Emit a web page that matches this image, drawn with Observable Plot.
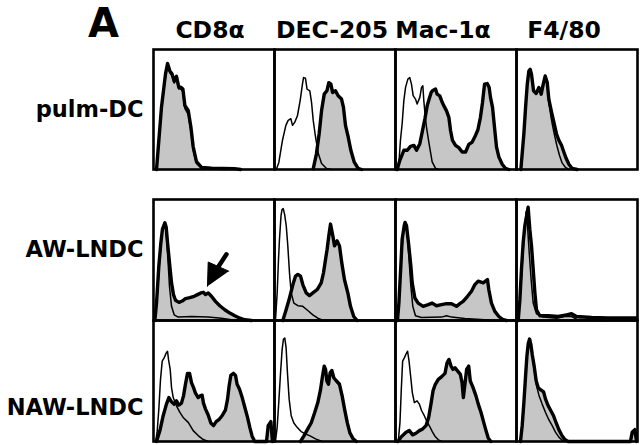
<!DOCTYPE html>
<html><head><meta charset="utf-8">
<script src="https://cdn.jsdelivr.net/npm/d3@7"></script>
<script src="https://cdn.jsdelivr.net/npm/@observablehq/plot@0.6"></script>
<style>
body{margin:0;background:#fff;}
#wrap{position:relative;width:640px;height:445px;font-family:"DejaVu Sans",sans-serif;background:#fff;}
#wrap svg{display:block;}
#panelLabel{position:absolute;left:88px;top:0px;font:bold 40px/47px "DejaVu Sans",sans-serif;color:#000;}
</style></head>
<body><div id="wrap"><div id="panelLabel">A</div></div>
<script>
// Cell populations (rows) and stained markers (columns)
const populations = ["pulm-DC", "AW-LNDC", "NAW-LNDC"];
const markers = ["CD8α", "DEC-205", "Mac-1α", "F4/80"];

// Histograms: [fluorescence (% of axis), cell count (% of panel height)]
// "control" = isotype control (open, thin line); "stained" = specific antibody (gray, thick line)
const pulmCD8Stained = [[2.5,0],[6.6,51.9],[9.9,79.5],[11.6,88.3],[13.5,82.2],[15.4,79.5],[17.1,73.6],[19,77.7],[20.9,68.5],[22.6,68.5],[24.3,67],[25.9,53.3],[28.7,49.2],[30.9,35.4],[32.8,18.9],[35.5,6.5],[39.7,1.8],[48,1],[67,0.7],[72,0]];
const pulmCD8Control = [[2.5,0],[6.6,50],[9.9,78],[11.6,86.5],[13.5,80.5],[15.4,78],[17.1,72],[19,76],[20.9,67],[22.6,67],[24.3,65],[25.9,51],[28.7,46],[30.9,32],[32.8,16],[35.5,5],[39.7,1.2],[48,0.6],[60,0]];

const pulmDECStained = [[32,0.6],[34.7,13.3],[36.9,29.8],[38.9,49.1],[41.1,62.8],[43.3,65.6],[44.9,72.4],[46.6,71.1],[48,64.2],[50.4,65.6],[52.6,61.4],[55.4,58.7],[57,51.8],[58.7,36.6],[60.9,27.1],[63.1,16],[65.8,6.4],[69.1,0.9],[72,0]];
const pulmDECControl = [[1.7,0.6],[3.6,5.9],[6.6,24.4],[9.4,36.8],[11.3,40.9],[13.5,42.3],[14.9,36.8],[16.8,39.5],[19,45],[21.2,57.4],[23.1,71.1],[24,76.6],[25.6,76],[26.9,67],[29.2,65.6],[30.6,56],[32,40.9],[33.9,27.1],[36.2,13.3],[38.9,5],[43,0.9],[47,0]];

const pulmMacStained = [[1.4,0],[3.6,7.7],[6.9,16],[9.6,16],[12.4,19.3],[15.2,20.1],[17.4,16],[20.1,21.5],[22.6,33.9],[24.3,42.2],[26.2,53.2],[27.8,58.7],[29.5,64.2],[31.1,66.1],[33.1,67],[34.4,62.8],[36.6,61.4],[38.6,56],[39.9,53.2],[42.1,49.1],[44.1,43.5],[45.5,32.5],[47.1,24.2],[49.6,20.1],[52.3,18.2],[55.1,14.6],[57.9,14.6],[60.6,20.9],[63.4,22.9],[66.1,28.4],[68.1,33.1],[70.2,43.5],[71.9,55.9],[73.6,71.1],[75.8,71.6],[77.4,68.3],[78.5,60.1],[80.2,51.8],[81.8,35.3],[83.5,18.7],[85.4,10.5],[88.2,4.4],[90.9,0.9],[93.7,0]];
const pulmMacControl = [[1.4,0],[2.8,5],[4.1,24.4],[5.5,38.1],[6.9,57.4],[8.3,68.4],[10.2,75.3],[11.8,76.6],[13.2,71.1],[14.6,61.5],[16.5,58.7],[17.9,54.6],[20.1,60.1],[21.5,68.4],[22.6,69.7],[23.4,57.4],[24.5,45],[25.6,35.4],[27.5,23],[30.3,6.4],[33.1,0.9],[35.8,0]];

const pulmF480Stained = [[3.6,0],[4.7,13.3],[6.1,29.8],[7.5,51.8],[8.9,71.1],[10.2,82.1],[11.3,83.5],[12.4,79.3],[14.1,65.6],[16.3,63.4],[18.5,68.3],[20.4,62.8],[22.1,71.1],[23.7,77.9],[25.4,72.4],[26.7,58.7],[29,47.7],[31.2,38],[33,29.8],[35,24.4],[37.2,20.2],[39.1,14.6],[41.1,9.1],[43.3,4.4],[46,0.9],[50.1,0]];
const pulmF480Control = [[3.6,0],[4.7,13.3],[6.1,29.8],[7.5,51.8],[8.9,71.1],[10.2,82.1],[11.3,83.5],[12.4,79.3],[14.1,65.6],[16.3,63.4],[18.5,68.3],[20.4,62.8],[22.1,71.1],[23.7,77.9],[25.4,72.4],[26.7,55.9],[29,40.8],[31.2,29.8],[33.3,20.2],[35.5,11.9],[37.7,5.5],[40.5,1.7],[43.3,0]];

const awCD8Stained = [[1.1,0],[2.5,14.4],[4.4,45],[6.1,64.4],[7.4,75.5],[9.4,80.8],[10.5,77],[11.6,64.4],[13.5,45],[14.9,31.1],[16.5,21.4],[18.2,16.7],[21,15],[23.7,16.1],[26.4,18.1],[30,18.9],[33.6,20],[36.4,21.4],[39.1,22.8],[41.3,23.3],[43,21.4],[45.2,22.8],[47.9,20],[51.2,15.8],[54.8,12.2],[58.9,8.9],[63.1,6.1],[67.2,3.9],[71.4,1.9],[75.5,0.6],[81,0]];
const awCD8Control = [[1.1,0],[3.3,22.8],[5.2,50.6],[7.2,72.8],[8.8,79.7],[10.2,75.5],[11.6,56.1],[13.2,28.3],[14.9,11.7],[17.1,4.7],[20.4,2.8],[31.4,3.3],[45.2,2.8],[56.2,1.9],[64.5,0.6],[70,0]];

const awDECStained = [[6.9,0],[9.6,8.9],[12.4,18.6],[15.2,29.7],[17.4,36.7],[19.3,38.1],[21.5,36.7],[23.4,29.7],[26.2,22.8],[28.9,20.6],[31.7,22.8],[35.3,25.6],[38.6,31.1],[40.5,39.4],[42.2,50.6],[43.5,58.9],[44.9,70],[46.3,79.7],[48.2,70],[49.6,61.7],[51.8,65.8],[53.7,61.7],[55.6,47.8],[57.8,33.9],[60.6,22.8],[62.8,11.7],[65.5,3.3],[68.3,0]];
const awDECControl = [[0.8,0],[2.2,22.5],[3.3,50.3],[4.1,67],[5.4,86.7],[6.2,91.7],[7.2,92.5],[8.4,87.5],[9.7,78.3],[11,61.7],[12.4,39.2],[13.8,22.8],[16,14.4],[19.3,12.2],[23.4,11.7],[27.5,8.3],[31.7,4.7],[35.8,1.9],[39.9,0.3],[44,0]];

const awMacStained = [[1.6,0],[2.8,14.4],[4.4,45],[5.5,67.2],[7.2,78.3],[7.9,81.1],[9.1,78.3],[11,61.7],[12.7,45],[13.8,31.1],[16,18.6],[18.7,14.4],[22.9,11.7],[27,13.1],[30.3,14.4],[33.9,12.2],[38,13.1],[42.2,13.9],[46.3,13.9],[50.4,11.7],[53.2,13.9],[55.9,15.8],[59.5,20],[62.8,24.2],[65.6,29.7],[68.3,32.5],[72.5,31.1],[76,33.9],[77.1,25.6],[79.3,14.4],[82.1,7.5],[85.4,3.3],[89,0.6],[91.7,0]];
const awMacControl = [[1.6,0],[3.3,22.8],[5,53.3],[6.6,75.5],[7.7,79],[9.4,75.5],[11,53.3],[12.7,28.3],[14.3,11.7],[16.5,3.9],[21.5,2.5],[38,2.8],[42.2,3.9],[46.3,2.8],[57.3,1.7],[73.8,0.6],[82.1,0]];

const awF480Stained = [[1.4,0],[2.8,17.2],[4.1,42.2],[5.5,64.4],[6.9,78.3],[9.6,93.6],[11,75.5],[12.4,61.7],[13.8,42.2],[15.2,22.8],[16.5,8.9],[19.3,3.9],[26.2,3.9],[34.4,3.3],[41.3,4.7],[45.5,5.6],[49.6,3.3],[62,2.5],[75.8,2.2],[89.5,2.2],[99,2.2]];
const awF480Control = [[1.4,0],[3.3,22.8],[5,50.6],[6.6,72.8],[8,90],[9.1,78.3],[10.5,56.1],[12.1,33.9],[13.8,14.4],[16.5,5.6],[22,2.8],[33,1.9],[39.9,3.3],[45.5,3.3],[49.6,1.1],[62,0.6],[70,0]];

const nawCD8Stained = [[2.5,0],[5.3,9],[8,21.3],[10.7,30.9],[12.7,36.3],[14.9,32.8],[17.1,30.9],[19,33.6],[20.9,30.1],[23.1,31.7],[24.8,37.7],[26.4,47.3],[28.1,56.3],[29.8,56.3],[31.4,48.6],[33.1,44.5],[34.7,39.9],[36.9,36.3],[38.6,37.7],[40.2,38.3],[41.3,31.7],[43,26.8],[45.2,21.9],[47.4,15.3],[49.6,13.1],[51.8,16.4],[54,18],[56.7,21.3],[59.5,26.2],[61.2,35],[62.5,45.9],[63.9,54.6],[66.1,56.3],[67.8,54.6],[69.1,47.3],[71.1,43.2],[73.3,36.3],[75.5,28.1],[77.7,19.9],[79.6,11.7],[81.5,4.4],[83.7,0],[93.4,0],[94.8,13.1],[97,16.4],[98.3,0]];
const nawCD8Control = [[1.7,0],[3,7.7],[4.4,26.8],[5.8,51.4],[7.2,66.4],[8.8,69.1],[10.5,73.2],[11.6,74.6],[12.4,67.8],[13.8,59.6],[14.9,44.5],[16.3,36.3],[19,29.5],[21.8,24],[24.5,19.9],[28.7,15.8],[32.8,9],[36.9,4.9],[41.1,1.6],[45.2,0]];

const nawDECStained = [[21.5,0],[24.2,4.4],[27.5,10.4],[30.3,15.3],[33.1,23.5],[35.8,32.2],[38,42.6],[39.7,54.1],[41.1,62.3],[42.2,59.6],[43.3,50],[44.6,47.3],[46,56.8],[47.4,58.7],[49,52.7],[51.2,50],[53.7,47.3],[55.9,37.7],[57.9,26.8],[60.1,15.8],[62.3,7.1],[65,2.2],[67.8,0]];
const nawDECControl = [[0.8,0],[2.2,11.7],[3.6,33.6],[5,56.8],[6.3,75.9],[7.4,84.7],[8.5,85.5],[9.6,77.3],[10.7,56.8],[12.1,35],[13.8,21.3],[16,15.3],[18.7,11.7],[22,8.2],[25.6,6.3],[29.8,4.4],[33.9,2.2],[39.4,0]];

const nawMacStained = [[1.9,0],[4.5,3.6],[8.7,7.7],[11.4,9],[14.2,5.5],[16.9,6.8],[19.7,9],[22.5,10.4],[25.2,13.1],[27.4,19.9],[29.3,30.9],[31,41.8],[32.9,47.3],[35.4,51.4],[38.2,53.6],[40.9,56.3],[42.6,65],[44.2,67.8],[45.9,62.3],[47.5,59.6],[49.2,60.9],[51.4,58.2],[53.6,55.5],[55,48.6],[56.1,36.3],[57.2,45.9],[58.8,59.6],[60.5,62.3],[61.8,50],[63.8,45.4],[66.5,37.7],[68.4,30.9],[70.7,24],[72.9,15.8],[74.8,9],[76.7,2.7],[78.9,0]];
const nawMacControl = [[2.3,0],[3.7,15.8],[4.8,43.2],[5.9,66.4],[7.3,69.1],[8.9,72.7],[10,74.6],[11.2,66.4],[12.5,54.1],[13.9,40.4],[15.6,32.2],[17.8,33.6],[19.7,30.9],[21.6,25.4],[23.8,21.3],[26,16.4],[28.2,12.6],[30.4,8.2],[32.6,4.4],[35.4,1.4],[38.2,0]];

const nawF480Stained = [[3.3,0],[4.7,13.1],[6.1,32.2],[7.5,54.1],[8.6,70.5],[9.7,80.9],[10.8,84.7],[11.9,80.1],[13,71.9],[14.6,62.3],[16.3,50],[18,44.5],[20.1,42.6],[22.4,41],[24,35],[26.2,29.5],[28.4,25.4],[30.6,21.3],[32.8,15.3],[35,9.8],[37.2,5.5],[39.9,1.6],[42.7,0],[94.2,0],[95.6,7.7],[97.8,9.8],[99.2,0]];
const nawF480Control = [[3.3,0],[4.7,13.1],[6.1,32.2],[7.5,54.1],[8.6,70.5],[9.7,80.9],[10.8,84.7],[11.9,80.1],[13,71.9],[14.6,59.6],[16.3,47.3],[18.5,38.3],[21.2,30.9],[24,24],[26.7,18],[29.5,13.1],[32.2,7.7],[35,3.6],[38.3,0.5],[40.5,0]];

// Arrow annotation (data units of the AW-LNDC / CD8α panel)
const arrowShaft = [[60.3, 54.7], [53.7, 44.7]];
const arrowHead = [[44.6, 28.3], [45.2, 48.3], [62.2, 40.8]];

// ---- assemble a tidy table for the library ----
const panels = [
  ["pulm-DC","CD8α",pulmCD8Stained,pulmCD8Control],
  ["pulm-DC","DEC-205",pulmDECStained,pulmDECControl],
  ["pulm-DC","Mac-1α",pulmMacStained,pulmMacControl],
  ["pulm-DC","F4/80",pulmF480Stained,pulmF480Control],
  ["AW-LNDC","CD8α",awCD8Stained,awCD8Control],
  ["AW-LNDC","DEC-205",awDECStained,awDECControl],
  ["AW-LNDC","Mac-1α",awMacStained,awMacControl],
  ["AW-LNDC","F4/80",awF480Stained,awF480Control],
  ["NAW-LNDC","CD8α",nawCD8Stained,nawCD8Control],
  ["NAW-LNDC","DEC-205",nawDECStained,nawDECControl],
  ["NAW-LNDC","Mac-1α",nawMacStained,nawMacControl],
  ["NAW-LNDC","F4/80",nawF480Stained,nawF480Control]
];
const rows = [];
for (const [pop, marker, st, ct] of panels) {
  for (const [x, y] of st) rows.push({pop, marker, kind: "stained", x, y});
  for (const [x, y] of ct) rows.push({pop, marker, kind: "control", x, y});
}

const FONT = "DejaVu Sans";
const GRAY = "#c6c6c6";

function histMarks(popList) {
  const data = rows.filter(d => popList.includes(d.pop));
  const st = data.filter(d => d.kind === "stained");
  const ct = data.filter(d => d.kind === "control");
  const ch = {x: "x", y: "y", fx: "marker", fy: "pop", curve: "linear"};
  return [
    Plot.areaY(st, {...ch, fill: GRAY}),
    Plot.line(ct, {...ch, stroke: "#000", strokeWidth: 1.5, strokeLinejoin: "round"}),
    Plot.line(st, {...ch, stroke: "#000", strokeWidth: 3.4, strokeLinejoin: "round"}),
    Plot.frame({stroke: "#000", strokeWidth: 2.6})
  ];
}

function rowLabel(pop, dy) {
  return Plot.text([pop], {
    fy: d => d, fx: () => markers[0], text: d => d,
    frameAnchor: "left", textAnchor: "end", lineAnchor: "middle",
    dx: -10, dy, fontFamily: FONT, fontWeight: "bold", fontSize: 22.5, fill: "#000"
  });
}

const headerDx = {"CD8α": -4, "DEC-205": -3, "Mac-1α": -13, "F4/80": -13};

const plotTop = Plot.plot({
  width: 640, height: 170,
  marginLeft: 152, marginRight: 2, marginTop: 49, marginBottom: 1,
  x: {domain: [0, 100], axis: null},
  y: {domain: [0, 100], axis: null},
  fx: {domain: markers, padding: 0, axis: null},
  fy: {domain: [populations[0]], padding: 0, axis: null},
  style: {background: "#fff", overflow: "visible"},
  marks: [
    ...histMarks([populations[0]]),
    ...markers.map(m => Plot.text([m], {
      fx: d => d, fy: () => populations[0], text: d => d,
      frameAnchor: "top", lineAnchor: "bottom", dy: -12, dx: headerDx[m],
      fontFamily: FONT, fontWeight: "bold", fontSize: 23.5, fill: "#000"
    })),
    rowLabel(populations[0], 0)
  ]
});

const plotBottom = Plot.plot({
  width: 640, height: 275,
  marginLeft: 152, marginRight: 2, marginTop: 29, marginBottom: 4,
  x: {domain: [0, 100], axis: null},
  y: {domain: [0, 100], axis: null},
  fx: {domain: markers, padding: 0, axis: null},
  fy: {domain: populations.slice(1), padding: 0, axis: null},
  style: {background: "#fff", overflow: "visible"},
  marks: [
    ...histMarks(populations.slice(1)),
    Plot.line(arrowShaft, {x: d => d[0], y: d => d[1], fx: () => markers[0], fy: () => populations[1], stroke: "#000", strokeWidth: 4.5}),
    Plot.line(arrowHead, {x: d => d[0], y: d => d[1], fx: () => markers[0], fy: () => populations[1], stroke: "#000", strokeWidth: 1, fill: "#000", strokeLinejoin: "round"}),
    rowLabel(populations[1], -10),
    rowLabel(populations[2], 27)
  ]
});

const wrap = document.getElementById("wrap");
wrap.appendChild(plotTop);
wrap.appendChild(plotBottom);
</script>
</body></html>
